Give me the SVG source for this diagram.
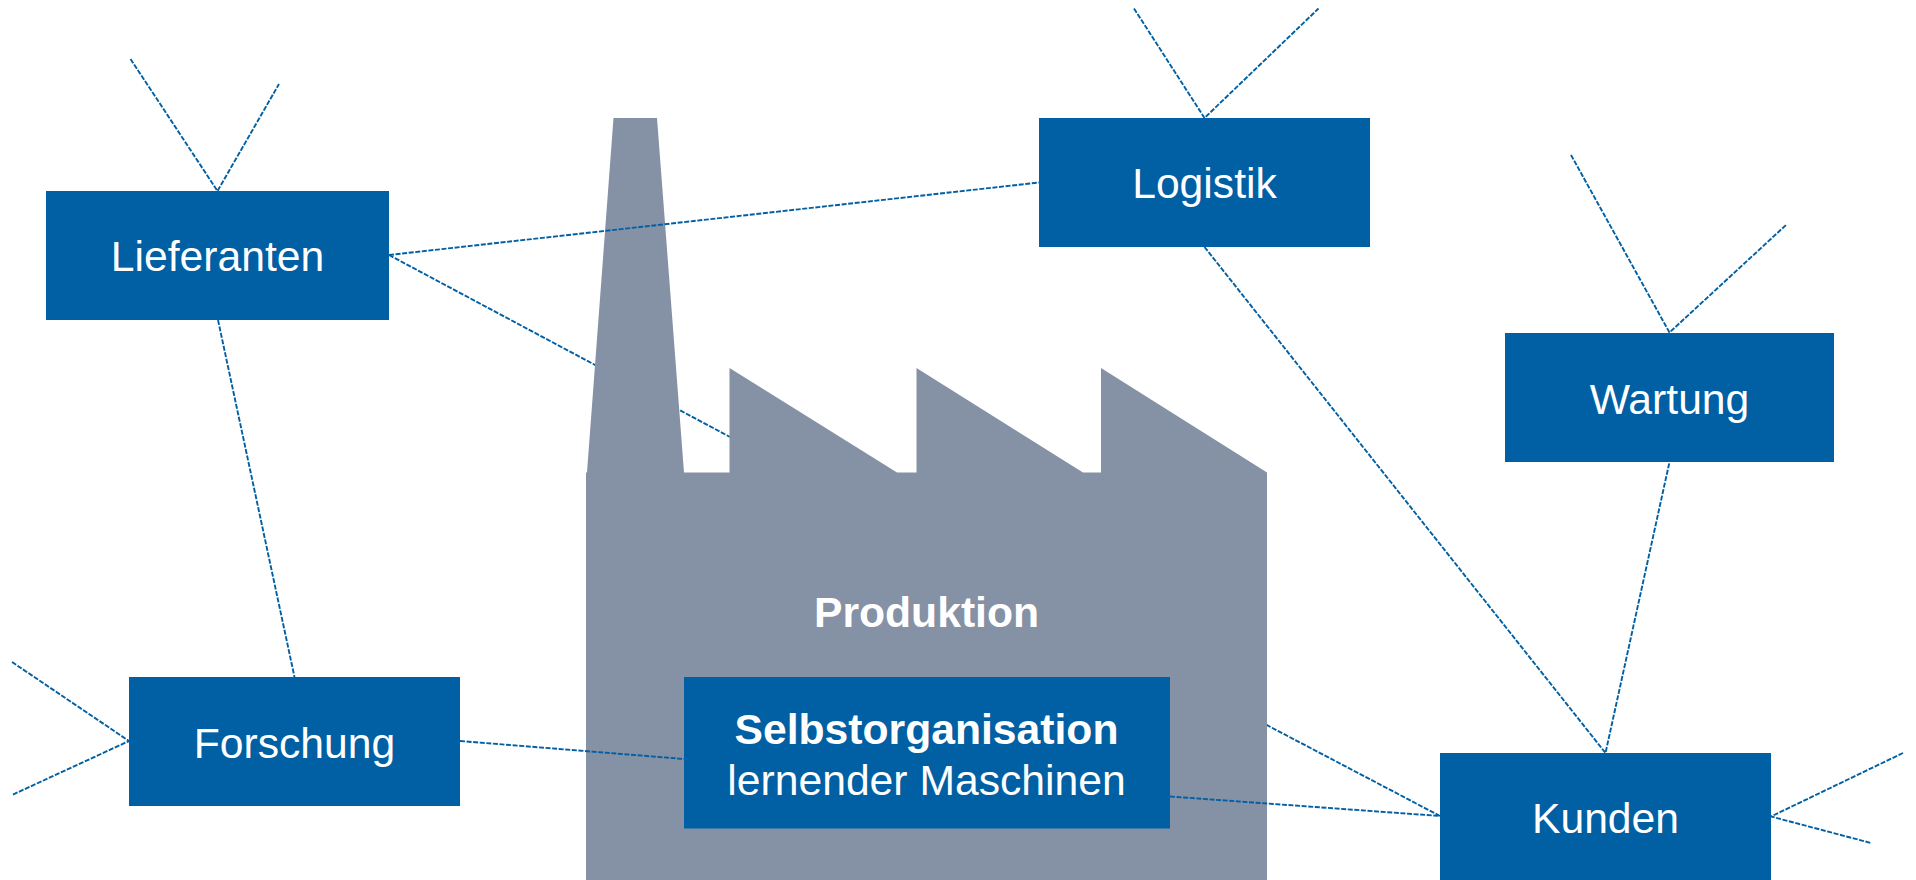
<svg xmlns="http://www.w3.org/2000/svg" width="1916" height="880" viewBox="0 0 1916 880">
<style>
.n{fill:#0060a3}
.c{fill:none;stroke:#0060a3;stroke-width:1.9;stroke-dasharray:5 1.6}
text{font-family:"Liberation Sans",Arial,sans-serif;font-size:42.67px;fill:#fff;text-anchor:middle}
.b{font-weight:bold}
</style>
<rect width="1916" height="880" fill="#fff"/>
<g id="connectors-back">
<path class="c" d="M389 255L730 437"/>
<path class="c" d="M1440 816L1200 690"/>
</g>
<g id="fabrik">
<path d="M613.5 118H657L684 472.5H729.5V368L897 472.5H916.5V368L1083 472.5H1101V368L1267 472.5V880H586V472.5L587 472.5Z" fill="#8591a5"/>
<text class="b" x="926.5" y="627">Produktion</text>
</g>
<g id="connectors">
<path class="c" d="M130.5 59L217.5 191L279 84"/>
<path class="c" d="M389 255L1039 182.5"/>
<path class="c" d="M218 320L294.5 677"/>
<path class="c" d="M12 662L129 741L12 795"/>
<path class="c" d="M460 741L684 759"/>
<path class="c" d="M1134 8.5L1204.5 118L1318.5 8.5"/>
<path class="c" d="M1204.5 247L1605.5 753L1669.5 462"/>
<path class="c" d="M1571 155L1669.5 332.5L1786 225"/>
<path class="c" d="M1170 796.5L1440 816"/>
<path class="c" d="M1903 753L1771 816.5L1871 843"/>
</g>
<g id="lieferanten"><rect class="n" x="46" y="191" width="343" height="129"/><text x="217.5" y="270.5">Lieferanten</text></g>
<g id="logistik"><rect class="n" x="1039" y="118" width="331" height="129"/><text x="1204.5" y="197.5">Logistik</text></g>
<g id="wartung"><rect class="n" x="1505" y="333" width="329" height="129"/><text x="1669.5" y="414">Wartung</text></g>
<g id="forschung"><rect class="n" x="129" y="677" width="331" height="129"/><text x="294.5" y="758">Forschung</text></g>
<g id="kunden"><rect class="n" x="1440" y="753" width="331" height="127"/><text x="1605.5" y="833">Kunden</text></g>
<g id="selbstorganisation"><rect class="n" x="684" y="677" width="486" height="151.5"/><text class="b" x="926.5" y="744">Selbstorganisation</text><text x="926.5" y="795">lernender Maschinen</text></g>
</svg>
